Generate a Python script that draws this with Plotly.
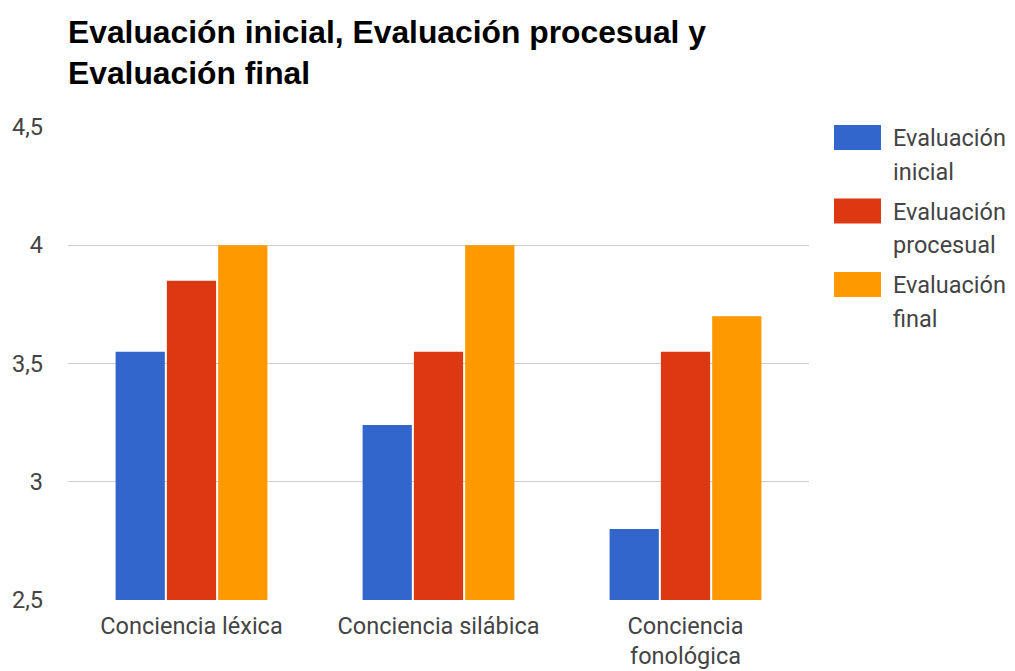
import plotly.graph_objects as go

categories = ["Conciencia léxica", "Conciencia silábica", "Conciencia fonológica"]
tick_labels = ["Conciencia léxica", "Conciencia silábica", "Conciencia<br>fonológica"]
series_names = ["Evaluación inicial", "Evaluación procesual", "Evaluación final"]
inicial = [3.55, 3.24, 2.8]
procesual = [3.85, 3.55, 3.55]
final = [4.0, 4.0, 3.7]
colors = ["#3366cc", "#dc3912", "#ff9900"]
y_ticks = [2.5, 3, 3.5, 4, 4.5]

W, H = 1015, 671
L, R, T, B = 68, 809, 127, 600  # plot area in pixels

fig = go.Figure()
for name, vals, col in zip(series_names, [inicial, procesual, final], colors):
    fig.add_trace(go.Bar(x=categories, y=vals, name=name, marker_color=col,
                         marker_line_width=0, showlegend=False))

def px_x(p):
    return (p - L) / (R - L)

def px_y(p):
    return (B - p) / (B - T)

shapes = []
annotations = []
for i, (name, col) in enumerate(zip(series_names, colors)):
    top = 125 + i * 73.5
    shapes.append(dict(type="rect", xref="paper", yref="paper",
                       x0=px_x(834), x1=px_x(881), y0=px_y(top + 25), y1=px_y(top),
                       fillcolor=col, line_width=0))
    parts = name.split(" ", 1)
    for j, line in enumerate(parts):
        annotations.append(dict(xref="paper", yref="paper", x=px_x(891), y=px_y(top + 13 + j * 34),
                                xanchor="left", yanchor="middle", text=line, showarrow=False,
                                font=dict(family="Roboto", size=23.5, color="#444444")))

fig.update_layout(
    width=W, height=H,
    margin=dict(l=L, r=W - R, t=T, b=H - B, pad=0),
    paper_bgcolor="white", plot_bgcolor="white",
    separators=",.",
    bargap=0.377, bargroupgap=0.04,
    title=dict(text="Evaluación inicial, Evaluación procesual y<br>Evaluación final",
               x=L / W, xanchor="left", xref="container",
               y=1 - 43 / H, yanchor="top", yref="container", automargin=False,
               font=dict(family="Liberation Sans", size=31.8, color="#000000", weight="bold")),
    xaxis=dict(tickmode="array", tickvals=categories, ticktext=tick_labels,
               tickfont=dict(family="Roboto", size=23.5, color="#444444"),
               showgrid=False, showline=False, ticks="", ticklabelstandoff=9,
               automargin=False),
    yaxis=dict(range=[2.5, 4.5], tickvals=y_ticks, showgrid=True, gridcolor="#cccccc",
               gridwidth=1, zeroline=False, showline=False, ticks="",
               ticklabelstandoff=24, automargin=False,
               tickfont=dict(family="Roboto", size=23.5, color="#444444")),
    shapes=shapes, annotations=annotations,
)

fig.write_html("out.html", config={"displayModeBar": False},
               post_script="document.body.style.margin='0px';")
